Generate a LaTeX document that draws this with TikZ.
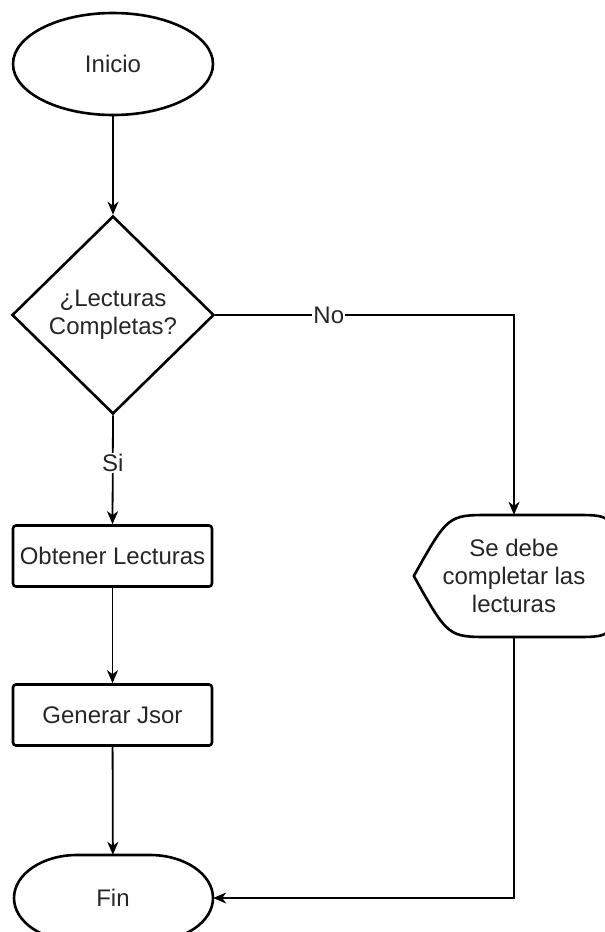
\documentclass[tikz,border=0pt]{standalone}
\usepackage{fontspec}
\setmainfont{Liberation Sans}
\usetikzlibrary{shapes.geometric,arrows.meta}
\begin{document}
\begin{tikzpicture}[x=1pt,y=-1pt,
  shapeline/.style={draw=black,line width=2.6pt},
  label text/.style={font=\fontsize{24}{28}\selectfont,text=black!85},
  term/.style={shapeline,ellipse,minimum width=200pt,minimum height=102pt,inner sep=0pt,label text},
  decision/.style={shapeline,diamond,minimum width=202pt,minimum height=198pt,inner sep=0pt,align=center,label text},
  process/.style={shapeline,rounded corners=3pt,minimum width=199pt,minimum height=61pt,inner sep=0pt,label text},
  textbox/.style={minimum width=200pt,inner sep=0pt,align=center,label text},
  conn/.style={draw=black,line width=1.8pt,-{Stealth[length=13pt,width=11pt,inset=4pt]}},
  edge text/.style={fill=white,inner sep=1pt,label text}]
\useasboundingbox (0,0) rectangle (605,932);
\begin{scope}
\clip (0,0) rectangle (605,932);

% start and decision
\node[term] (inicio) at (113,64) {Inicio};
\node[decision] (dec) at (113,315) {¿Lecturas\\Completas?};

% main branch
\node[process] (obt) at (112.5,556) {Obtener Lecturas};
\node[process] (gen) at (112.5,715) {Generar Jsor};

% end terminator: flat top and bottom with elliptical ends
\node[textbox,minimum height=86pt] (fin) at (113,898) {Fin};
\draw[shapeline] (77,855) -- (150,855) arc[start angle=90,end angle=-90,x radius=63pt,y radius=43pt]
  -- (77,941) arc[start angle=270,end angle=90,x radius=63pt,y radius=43pt] -- cycle;

% display shape for the warning message
\node[textbox,minimum height=122pt] (warn) at (514,576)
  {Se debe\\completar las\\lecturas};
\draw[shapeline,line join=round]
  (warn.west) .. controls (448,515) .. (490,515) -- (575,515)
  .. controls (615,515) .. (615,576)
  .. controls (615,637) .. (575,637) -- (490,637)
  .. controls (448,637) .. (warn.west) -- cycle;

% connectors
\draw[conn] (inicio) -- (dec);
\draw[conn] (dec.south) -- node[edge text,pos=0.44] {Si} (obt.north);
\draw[conn] (obt) -- (gen);
\draw[conn] (gen) -- (fin);
\draw[conn] (dec.east) -| node[edge text,pos=0.19] {No} (warn.north);
\draw[conn] (warn.south) |- (fin.east);
\end{scope}
\end{tikzpicture}
\end{document}
